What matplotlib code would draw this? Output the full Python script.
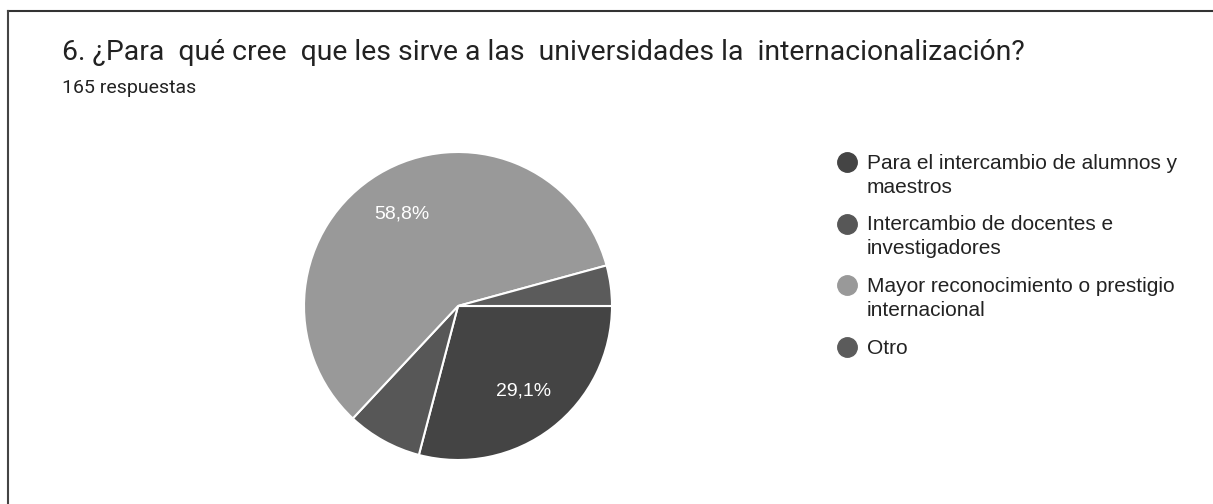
import matplotlib
matplotlib.use("Agg")
import matplotlib.pyplot as plt
from matplotlib.lines import Line2D

title = "6. ¿Para  qué cree  que les sirve a las  universidades la  internacionalización?"
subtitle = "165 respuestas"
categories = [
    "Para el intercambio de alumnos y\nmaestros",
    "Intercambio de docentes e\ninvestigadores",
    "Mayor reconocimiento o prestigio\ninternacional",
    "Otro",
]
counts = [48, 13, 97, 7]
colors = ["#444444", "#575757", "#999999", "#5b5b5b"]

W, H = 1213, 504
fig = plt.figure(figsize=(W / 100, H / 100), dpi=100)
plt.rcParams['font.family'] = ['Roboto', 'DejaVu Sans']
ARIAL = ['Liberation Sans', 'DejaVu Sans']

# pie axes: center (458, 306), radius 154 px
R = 154
cx, cy = 458, 306
ax = fig.add_axes([(cx - R) / W, 1 - (cy + R) / H, 2 * R / W, 2 * R / H])

def fmt(p):
    return (f"{p:.1f}%".replace(".", ",")) if p > 10 else ""

wedges, texts, autotexts = ax.pie(
    counts, colors=colors, startangle=0, counterclock=False,
    autopct=fmt, pctdistance=0.70, radius=1.0,
    wedgeprops=dict(edgecolor="white", linewidth=1.5),
    textprops=dict(color="white", fontsize=14, family=ARIAL),
)
ax.set_xlim(-1, 1)
ax.set_ylim(-1, 1)
ax.set_aspect("equal")
ax.axis("off")

# title and subtitle
fig.text(62 / W, 1 - 60 / H, title, fontsize=20.4, color="#222222", ha="left", va="baseline")
fig.text(62 / W, 1 - 93 / H, subtitle, fontsize=14, color="#222222", ha="left", va="baseline")

# legend
y0 = 162
step = 61.5
for i, (lab, col) in enumerate(zip(categories, colors)):
    y = y0 + i * step
    fig.add_artist(Line2D([847 / W], [1 - y / H], marker="o", markersize=14, color=col,
                          linestyle="none", transform=fig.transFigure))
    fig.text(867 / W, 1 - (y - 8) / H, lab, fontsize=15, color="#222222", ha="left", va="top",
             linespacing=1.33, family=ARIAL)

# frame lines (top and left)
fig.add_artist(Line2D([7.5 / W, 1], [1 - 10.5 / H, 1 - 10.5 / H], color="#333333", linewidth=1.5,
                      transform=fig.transFigure))
fig.add_artist(Line2D([7.5 / W, 7.5 / W], [0, 1 - 10.5 / H], color="#444444", linewidth=1.5,
                      transform=fig.transFigure))

fig.savefig("out.png", dpi=100, facecolor="white")
